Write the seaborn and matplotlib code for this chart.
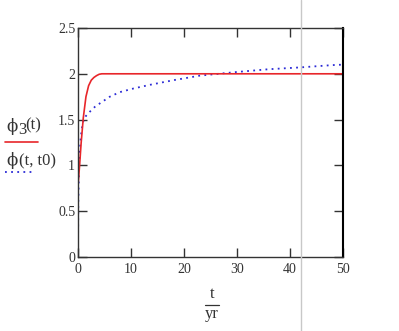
import numpy as np
import pandas as pd
import matplotlib
matplotlib.use("Agg")
import matplotlib.pyplot as plt
from matplotlib.lines import Line2D
import seaborn as sns

# ---- data ----
t_red = [0, 0.02, 0.1, 0.3, 0.6, 1.0, 1.5, 2.0, 2.5, 3.0, 3.5, 4.0, 4.5, 50]
phi3 = [0, 0.8, 0.85, 1.0, 1.25, 1.52, 1.75, 1.87, 1.93, 1.96, 1.98, 1.995, 2.0, 2.0]

t_blue = [0, 0.05, 0.2, 0.5, 0.9, 1.5, 2.3, 3.2, 4.2, 6, 7.9, 10.5, 13.6, 18, 23, 30, 36, 42, 48, 50]
phi_t0 = [0, 0.6, 1.0, 1.3, 1.47, 1.54, 1.59, 1.64, 1.68, 1.75, 1.80, 1.84, 1.88, 1.93, 1.98,
          2.02, 2.05, 2.07, 2.095, 2.10]

x_ticks = [0, 10, 20, 30, 40, 50]
y_ticks = [0, 0.5, 1, 1.5, 2, 2.5]
y_tick_labels = ["0", "0.5", "1", "1.5", "2", "2.5"]

sns.set_style("ticks")
plt.rcParams['font.family'] = ['Liberation Serif', 'DejaVu Serif']

W, H = 399, 331
fig = plt.figure(figsize=(W / 100, H / 100), dpi=100)
ax = fig.add_axes([78 / W, 1 - 257 / H, (343 - 78) / W, (257 - 28) / H])

df_red = pd.DataFrame({"t": t_red, "v": phi3})
df_blue = pd.DataFrame({"t": t_blue, "v": phi_t0})
sns.lineplot(data=df_blue, x="t", y="v", ax=ax, color="#2b2bd6", lw=1.3,
             linestyle=(0, (1, 2.4)), estimator=None, sort=False)
sns.lineplot(data=df_red, x="t", y="v", ax=ax, color="#e8262a", lw=1.2,
             estimator=None, sort=False)

ax.set_xlim(0, 50)
ax.set_ylim(0, 2.5)
ax.set_xticks(x_ticks)
ax.set_xticklabels([str(v) for v in x_ticks])
ax.set_yticks(y_ticks)
ax.set_yticklabels(y_tick_labels)
ax.set_xlabel("")
ax.set_ylabel("")
ax.tick_params(axis="both", direction="in", length=6.3, width=1.0, color="#333333",
               labelsize=10, labelcolor="#333333", top=True, right=True)
ax.tick_params(axis="x", pad=4)
ax.tick_params(axis="y", pad=2)
for s in ["left", "bottom", "top"]:
    ax.spines[s].set_color("#333333")
    ax.spines[s].set_linewidth(1.0)
    ax.spines[s].set_visible(True)
ax.spines["right"].set_color("black")
ax.spines["right"].set_linewidth(1.5)
ax.spines["right"].set_visible(True)
if ax.get_legend():
    ax.get_legend().remove()

# legend-like labels on the left
fs = 12
phi = "\u03d5"
fig.text(6 / W, 1 - 131 / H, phi, fontsize=fs, color="#333333", va="baseline",
         family=["DejaVu Serif"])
fig.text(18 / W, 1 - 134 / H, "3", fontsize=fs, color="#333333", va="baseline")
fig.text(25 / W, 1 - 129 / H, "(t)", fontsize=fs, color="#333333", va="baseline")
fig.add_artist(Line2D([5 / W, 38 / W], [1 - 142 / H] * 2, color="#e8262a", lw=1.2))
fig.text(6 / W, 1 - 165 / H, phi, fontsize=fs, color="#333333", va="baseline",
         family=["DejaVu Serif"])
fig.text(19 / W, 1 - 165 / H, "(t, t0)", fontsize=fs, color="#333333", va="baseline")
fig.add_artist(Line2D([5 / W, 34 / W], [1 - 172 / H] * 2, color="#2b2bd6", lw=1.3,
                      linestyle=(0, (1, 2.4))))

# x label as fraction t / yr
fig.text(212 / W, 1 - 298 / H, "t", fontsize=fs, color="#333333", ha="center", va="baseline")
fig.add_artist(Line2D([205 / W, 219 / W], [1 - 305 / H] * 2, color="#333333", lw=0.9))
fig.text(212 / W, 1 - 318 / H, "yr", fontsize=fs, color="#333333", ha="center", va="baseline")

# light vertical guide line across the whole image
fig.add_artist(Line2D([300.7 / W] * 2, [0, 1], color="#c8c8c8", lw=1.0))

fig.savefig("out.png", dpi=100)
